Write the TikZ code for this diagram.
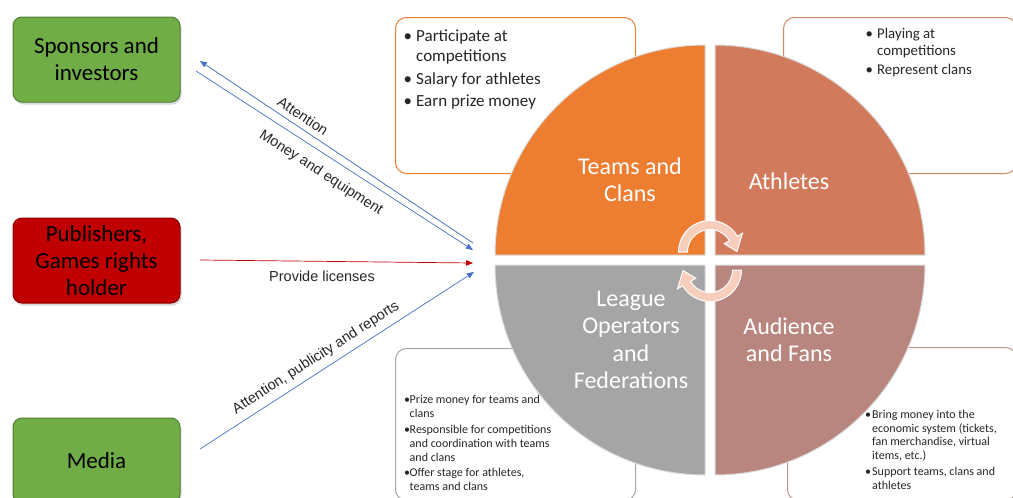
\documentclass[tikz,border=0pt]{standalone}
\usepackage{fontspec}
\setmainfont{Carlito}
\newfontfamily\labelfont{Liberation Sans}
\usetikzlibrary{arrows.meta,shadows}

\definecolor{grnfill}{HTML}{70AD47}
\definecolor{grnline}{HTML}{507E32}
\definecolor{redfill}{HTML}{C00000}
\definecolor{redline}{HTML}{8C0000}
\definecolor{teamcol}{HTML}{ED7D31}
\definecolor{athcol}{HTML}{D27B5C}
\definecolor{leaguecol}{HTML}{A5A5A5}
\definecolor{audcol}{HTML}{B8867E}
\definecolor{athline}{HTML}{D58868}
\definecolor{audline}{HTML}{C0948C}
\definecolor{cyclecol}{HTML}{F7CDBB}
\definecolor{linkblue}{HTML}{4472C4}
\definecolor{linkred}{HTML}{C00000}

% bullet cell of a fixed width
\newcommand\bul[1]{\makebox[#1][l]{•}}

\begin{document}
\begin{tikzpicture}[x=1pt,y=-1pt,
  actor/.style={rounded corners=9pt, minimum width=167pt, minimum height=85pt,
    line width=1pt, align=center, inner sep=2pt,
    font=\fontsize{23}{27}\selectfont,
    drop shadow={shadow xshift=1.5pt,shadow yshift=-2.5pt,opacity=0.3}},
  detail/.style={rounded corners=11pt, line width=1pt, fill=white,
    anchor=north west, inner sep=0pt},
  listtext/.style={anchor=north west, inner sep=0pt, text=black!85},
  quad/.style={draw=white!86!black, line width=1pt},
  qtext/.style={text=white, align=center, font=\fontsize{24}{27.3}\selectfont},
  cyc/.style={fill=cyclecol, draw=white, line width=1pt},
  lbl/.style={font=\labelfont\fontsize{14.5}{17}\selectfont, text=black!85, inner sep=0pt},
  link/.style={line width=0.7pt, -{Triangle[length=7pt,width=5.5pt]}},
]
\useasboundingbox (0,0) rectangle (1013,498);

% detail boxes behind the circle
\node[detail, draw=teamcol, minimum width=240pt, minimum height=156pt] (teamsbox) at (395,17) {};
\node[detail, draw=athline, minimum width=233pt, minimum height=156pt] (athbox) at (783,17) {};
\node[detail, draw=leaguecol, minimum width=240pt, minimum height=152pt] (leaguebox) at (395,348) {};
\node[detail, draw=audline, minimum width=229pt, minimum height=153pt] (audbox) at (787,347) {};

\node[listtext, font=\fontsize{17}{20}\selectfont] (teamslist) at (403.5,27.5) {%
  \begin{tabular}{@{}l@{}l@{}}
  \bul{12.5pt} & Participate at\\
               & competitions\\[2.5pt]
  \bul{12.5pt} & Salary for athletes\\[2.5pt]
  \bul{12.5pt} & Earn prize money
  \end{tabular}};
\node[listtext, font=\fontsize{14.8}{17}\selectfont] (athlist) at (865.5,26) {%
  \begin{tabular}{@{}l@{}l@{}}
  \bul{11.5pt} & Playing at\\
               & competitions\\[2pt]
  \bul{11.5pt} & Represent clans
  \end{tabular}};
\node[listtext, font=\fontsize{12}{13.8}\selectfont] (leaguelist) at (404,394) {%
  \begin{tabular}{@{}l@{}l@{}}
  \bul{5.5pt} & Prize money for teams and\\
              & clans\\[2pt]
  \bul{5.5pt} & Responsible for competitions\\
              & and coordination with teams\\
              & and clans\\[2pt]
  \bul{5.5pt} & Offer stage for athletes,\\
              & teams and clans
  \end{tabular}};
\node[listtext, font=\fontsize{12}{13.8}\selectfont] (audlist) at (865,408.5) {%
  \begin{tabular}{@{}l@{}l@{}}
  \bul{7pt} & Bring money into the\\
            & economic system (tickets,\\
            & fan merchandise, virtual\\
            & items, etc.)\\[2pt]
  \bul{7pt} & Support teams, clans and\\
            & athletes
  \end{tabular}};

% the four quadrants of the circle
\fill[quad, fill=teamcol] (705,255) -- ++(-210,0) arc[start angle=180,end angle=270,radius=210] -- cycle;
\fill[quad, fill=athcol] (715,255) -- ++(0,-210) arc[start angle=270,end angle=360,radius=210] -- cycle;
\fill[quad, fill=leaguecol] (705,265) -- ++(-210,0) arc[start angle=180,end angle=90,radius=210] -- cycle;
\fill[quad, fill=audcol] (715,265) -- ++(210,0) arc[start angle=0,end angle=90,radius=210] -- cycle;

% cycle arrows in the middle
\begin{scope}[shift={(710,252)}]
  \path[cyc] (180:31.5) arc[start angle=180,end angle=330,radius=31.5]
    -- (330:37.5) -- (359:27) -- (330:16.5) -- (330:22.5)
    arc[start angle=330,end angle=180,radius=22.5] -- cycle;
\end{scope}
\begin{scope}[shift={(710,270)}]
  \path[cyc] (0:31.5) arc[start angle=0,end angle=150,radius=31.5]
    -- (150:37.5) -- (179:27) -- (150:16.5) -- (150:22.5)
    arc[start angle=150,end angle=0,radius=22.5] -- cycle;
\end{scope}

\node[qtext] (teamslab) at (630,180) {Teams and\\Clans};
\node[qtext] (athlab) at (789,181) {Athletes};
\node[qtext] (leaguelab) at (631,340) {League\\Operators\\and\\Federations};
\node[qtext] (audlab) at (789,340) {Audience\\and Fans};

% stakeholders outside the circle
\node[actor, fill=grnfill, draw=grnline] (spon) at (96.5,59.5) {Sponsors and\\investors};
\node[actor, fill=redfill, draw=redline] (pub) at (96.5,260.5) {Publishers,\\Games rights\\holder};
\node[actor, fill=grnfill, draw=grnline] (media) at (96.5,460.5) {Media};

% flows between stakeholders and the ecosystem
\coordinate (attS) at (473,243);
\coordinate (attE) at (200,61);
\coordinate (monS) at (196,71);
\coordinate (monE) at (473,250);
\coordinate (licS) at (200,260);
\coordinate (licE) at (473,263);
\coordinate (medS) at (200,449);
\coordinate (medE) at (474,272);

\draw[link, draw=linkblue, -{Triangle[length=7pt,width=5.5pt,fill=linkblue]}] (attS) -- (attE);
\draw[link, draw=linkblue] (monS) -- (monE);
\draw[link, draw=linkred] (licS) -- (licE);
\draw[link, draw=linkblue] (medS) -- (medE);

\node[lbl, rotate=-33.7] (attlab) at (303,116) {Attention};
\node[lbl, rotate=-32.9] (monlab) at (321,173) {Money and equipment};
\node[lbl] (liclab) at (322,276) {Provide licenses};
\node[lbl, rotate=32.9] (medlab) at (316,358) {Attention, publicity and reports};
\end{tikzpicture}
\end{document}
